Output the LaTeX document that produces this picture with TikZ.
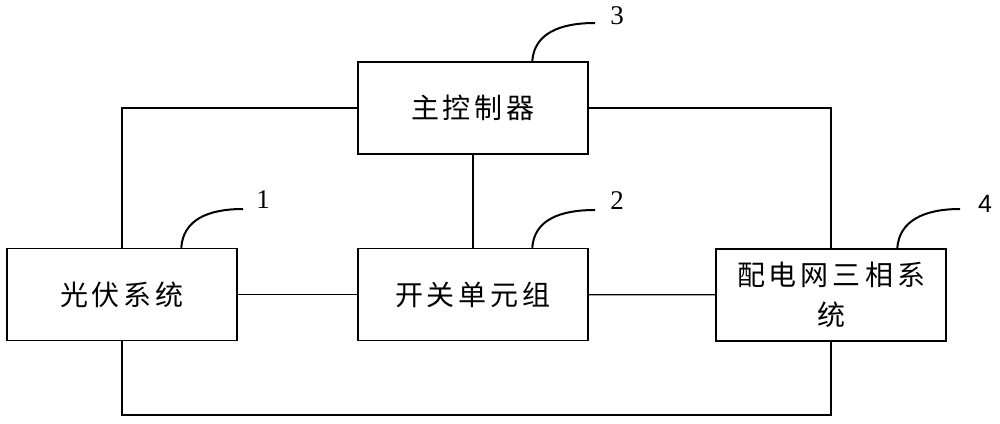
\documentclass[tikz,border=0pt]{standalone}
\usepackage{fontspec}
\newfontfamily\cjk{Noto Sans CJK SC}
\newfontfamily\numserif{Liberation Serif}
\newfontfamily\numsans{Liberation Sans}
\usetikzlibrary{calc}
\newcommand{\cgap}{\kern4pt}
\begin{document}
\begin{tikzpicture}[x=1pt,y=-1pt,
  blk/.style={draw,line width=1.5pt,minimum width=230pt,minimum height=92pt,inner sep=0pt,font=\cjk\fontsize{28}{40}\selectfont,align=center},
  wire/.style={line width=1.2pt},
  leader/.style={line width=2pt},
  num/.style={inner sep=0pt,font=\numserif\fontsize{27}{27}\selectfont}]
\useasboundingbox (0,0) rectangle (1000,423);
\node[blk] (ctrl) at (473,108) {主\cgap 控\cgap 制\cgap 器};
\node[blk] (pv) at (122,294.5) {光\cgap 伏\cgap 系\cgap 统};
\node[blk] (sw) at (473,294.5) {开\cgap 关\cgap 单\cgap 元\cgap 组};
\node[blk] (grid) at (831,295) {配\cgap 电\cgap 网\cgap 三\cgap 相\cgap 系\\统};
\coordinate (bot) at (0,415);
\draw[wire] (ctrl.west) -| (pv.north);
\draw[wire] (ctrl.east) -| (grid.north);
\draw[wire] (ctrl) -- (sw);
\draw[wire] (pv) -- (sw);
\draw[wire] (sw) -- (grid);
\draw[wire] (pv.south) -- (pv.south |- bot) -| (grid.south);
% leaders
\coordinate (s1) at ($(pv.north west)+(175,0)$);
\coordinate (e1) at (243,209);
\coordinate (s2) at ($(sw.north west)+(175,0)$);
\coordinate (e2) at (595,210);
\coordinate (s3) at ($(ctrl.north west)+(175,0)$);
\coordinate (e3) at (595,23);
\coordinate (s4) at ($(grid.north west)+(182,0)$);
\coordinate (e4) at (960,209);
\foreach \s/\e in {s1/e1,s2/e2,s3/e3,s4/e4}{
  \draw[leader] (\s) .. controls ($(\s)+(2,-28)$) and ($(\e)+(-35,0)$) .. (\e);
}
\node[num] (n1) at (263,200) {1};
\node[num] (n2) at (617,201) {2};
\node[num] (n3) at (617,16) {3};
\node[num,font=\numsans\fontsize{25}{25}\selectfont] (n4) at (985,204) {4};
\end{tikzpicture}
\end{document}
